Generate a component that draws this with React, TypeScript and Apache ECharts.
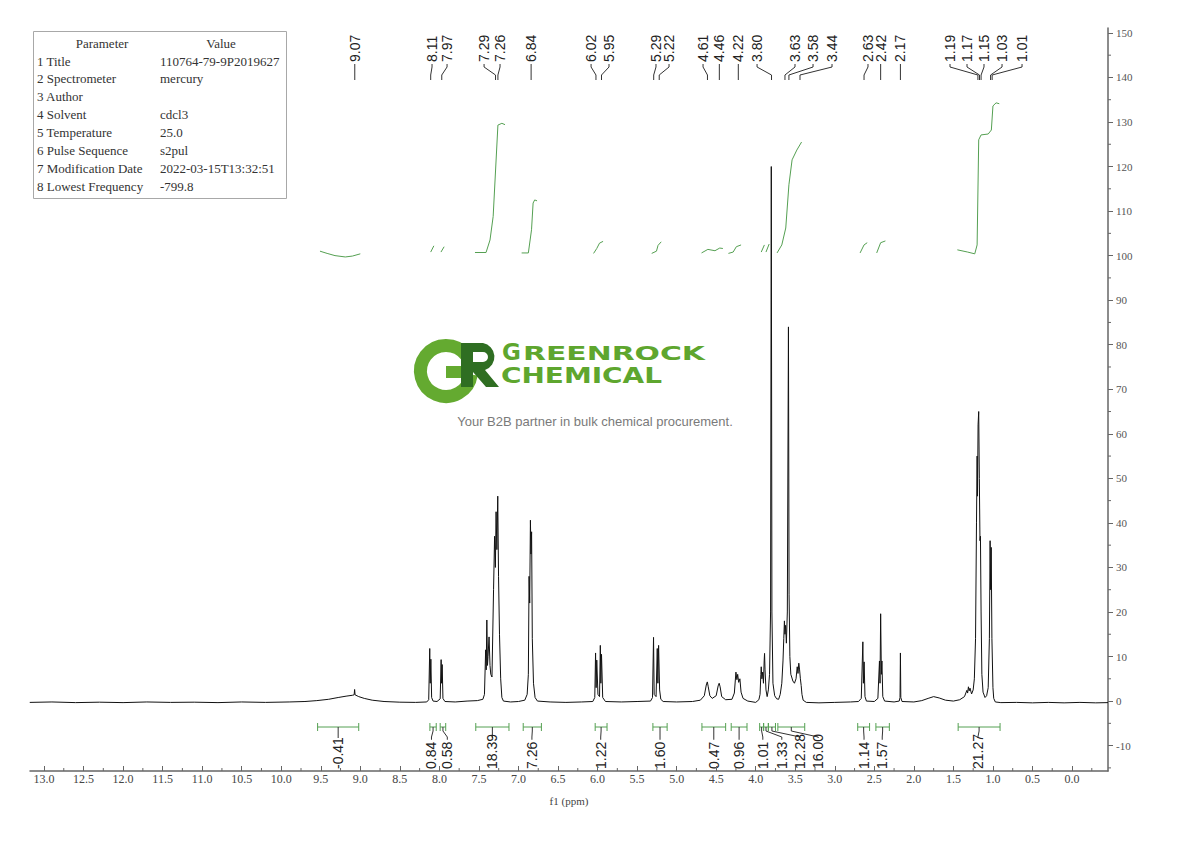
import React, { useEffect, useRef } from "react";
import * as echarts from "echarts";

// ---------- data ----------
const xTickLabels = [0, 0.5, 1, 1.5, 2, 2.5, 3, 3.5, 4, 4.5, 5, 5.5, 6, 6.5, 7, 7.5, 8, 8.5, 9, 9.5, 10, 10.5, 11, 11.5, 12, 12.5, 13];
const xMinorTicks = [-0.25, 0.25, 0.75, 1.25, 1.75, 2.25, 2.75, 3.25, 3.75, 4.25, 4.75, 5.25, 5.75, 6.25, 6.75, 7.25, 7.75, 8.25, 8.75, 9.25, 9.75, 10.25, 10.75, 11.25, 11.75, 12.25, 12.75];
const yTickLabels = [-10, 0, 10, 20, 30, 40, 50, 60, 70, 80, 90, 100, 110, 120, 130, 140, 150];
const yMinorTicks = [-15, -5, 5, 15, 25, 35, 45, 55, 65, 75, 85, 95, 105, 115, 125, 135, 145];

// spectrum points [ppm, intensity]
const spectrum: [number, number][] = [
  [13.18, -0.3], [12.9, -0.2], [12.6, -0.35], [12.3, -0.25], [12.0, -0.35], [11.7, -0.2], [11.4, -0.3], [11.1, -0.25],
  [10.8, -0.35], [10.5, -0.2], [10.2, -0.3], [9.9, -0.2], [9.7, -0.1], [9.55, 0.1], [9.4, 0.4], [9.28, 0.8], [9.18, 1.1],
  [9.1, 1.3], [9.078, 1.4], [9.072, 2.6], [9.066, 1.4], [9.02, 1.0], [8.95, 0.6], [8.85, 0.2], [8.7, -0.1], [8.5, -0.25],
  [8.3, -0.3], [8.16, -0.2],
  [8.135, 0.3], [8.122, 11.8], [8.116, 4], [8.108, 9.4], [8.098, 0.8], [8.08, 0], [8.03, -0.1],
  [7.99, 0.5], [7.978, 9.3], [7.972, 4], [7.965, 8.2], [7.955, 0.6], [7.93, -0.1], [7.8, -0.2], [7.65, 0], [7.52, 0.1],
  [7.45, 0.4], [7.43, 1.5], [7.415, 11.5], [7.408, 7], [7.4, 18.2], [7.392, 8], [7.385, 10], [7.372, 14.4], [7.36, 8],
  [7.35, 6], [7.335, 5.4], [7.315, 25], [7.302, 37], [7.292, 30], [7.283, 42.5], [7.273, 34], [7.262, 46], [7.252, 28],
  [7.24, 15], [7.225, 5], [7.21, 0.8], [7.19, 0], [7.1, -0.2], [7.0, -0.1],
  [6.92, 0.2], [6.89, 1.5], [6.875, 6], [6.866, 28], [6.858, 22], [6.849, 40.6], [6.842, 33], [6.834, 38], [6.825, 14],
  [6.81, 4], [6.79, 0.8], [6.76, 0], [6.6, -0.2], [6.4, -0.3], [6.2, -0.2], [6.06, -0.1],
  [6.035, 0.8], [6.025, 10.8], [6.018, 3], [6.01, 9.2], [5.995, 1.5], [5.975, 1], [5.965, 12.5], [5.958, 4], [5.95, 10.5],
  [5.935, 0.8], [5.9, -0.1], [5.7, -0.2], [5.5, -0.1], [5.33, 0],
  [5.305, 0.8], [5.292, 14.3], [5.284, 1.5], [5.26, 1], [5.245, 11.8], [5.237, 4], [5.228, 12.5], [5.215, 2.5], [5.2, 0.4],
  [5.17, -0.1], [5.0, -0.2], [4.8, -0.1], [4.7, 0.2],
  [4.65, 1.2], [4.625, 3.6], [4.612, 4.3], [4.6, 3.2], [4.58, 1.2], [4.55, 0.6], [4.5, 1.2], [4.475, 3.4], [4.462, 4],
  [4.45, 3.2], [4.43, 1], [4.38, 0.3], [4.3, 0.4], [4.27, 1.8], [4.25, 6.5], [4.238, 4.8], [4.228, 6], [4.215, 4.2],
  [4.2, 5], [4.185, 2], [4.16, 0.6], [4.1, 0], [4.0, -0.3],
  [3.96, 0.3], [3.945, 1.5], [3.935, 6], [3.93, 7.7], [3.922, 5], [3.912, 6.5], [3.902, 4], [3.893, 9], [3.888, 10.7],
  [3.882, 7], [3.87, 2.5], [3.855, 1], [3.84, 2.5], [3.825, 6], [3.812, 20], [3.803, 120], [3.795, 20], [3.782, 4],
  [3.76, 1.2], [3.735, 0.5], [3.71, 0.4], [3.69, 1.5], [3.67, 4], [3.655, 9], [3.645, 14], [3.637, 18], [3.63, 15],
  [3.622, 17], [3.612, 13], [3.6, 20], [3.586, 84], [3.578, 24], [3.568, 10], [3.556, 6], [3.545, 5.4], [3.53, 4.5],
  [3.51, 4], [3.49, 5], [3.475, 7.7], [3.465, 6.2], [3.455, 8.5], [3.445, 7], [3.435, 5], [3.425, 3.5], [3.415, 1.5],
  [3.4, 0.2], [3.36, -0.3], [3.2, -0.4], [3.0, -0.3], [2.8, -0.2], [2.7, -0.1],
  [2.665, 0.6], [2.645, 13.3], [2.638, 4], [2.629, 8.8], [2.618, 1], [2.6, 0], [2.5, -0.1],
  [2.455, 0.6], [2.435, 9], [2.428, 4], [2.42, 19.6], [2.411, 6], [2.404, 9], [2.393, 1], [2.37, 0], [2.25, -0.2],
  [2.185, 0], [2.175, 0.8], [2.17, 10.8], [2.165, 0.8], [2.15, -0.1], [2.0, -0.2],
  [1.9, 0.1], [1.82, 0.6], [1.75, 1.0], [1.68, 0.7], [1.6, 0.2], [1.5, 0], [1.42, 0.3], [1.36, 1], [1.33, 2.4],
  [1.32, 1.8], [1.31, 3.2], [1.3, 2.3], [1.29, 2.9], [1.27, 1.6], [1.25, 2.5], [1.235, 5], [1.22, 14], [1.208, 40],
  [1.2, 55], [1.195, 46], [1.188, 62], [1.18, 65], [1.172, 50], [1.164, 36], [1.158, 37], [1.15, 20], [1.14, 6],
  [1.125, 2], [1.1, 0.8], [1.08, 1.2], [1.06, 3], [1.045, 14], [1.036, 36], [1.029, 25], [1.022, 34.5], [1.013, 14],
  [1.0, 3], [0.99, 0.6], [0.97, -0.2], [0.9, -0.35], [0.7, -0.3], [0.5, -0.4], [0.3, -0.3], [0.1, -0.4], [-0.1, -0.3],
  [-0.3, -0.4], [-0.455, -0.35],
];

// integral traces (green)
const integral1: [number, number][] = [[9.51, 101.0], [9.42, 100.5], [9.32, 100.0], [9.19, 99.7], [9.1, 99.9], [9.0, 100.4]];
const integral2: [number, number][] = [[8.11, 100.8], [8.07, 102.2]];
const integral3: [number, number][] = [[7.98, 100.8], [7.94, 102.0]];
const integral4: [number, number][] = [[7.55, 100.7], [7.41, 100.7], [7.36, 103.5], [7.32, 108.8], [7.26, 129.3], [7.21, 129.7], [7.17, 129.4]];
const integral5: [number, number][] = [[6.96, 100.6], [6.875, 100.6], [6.835, 105.8], [6.815, 111.8], [6.795, 112.5], [6.765, 112.3]];
const integral6: [number, number][] = [[6.05, 100.5], [6.01, 101.6], [5.975, 102.8], [5.93, 103.2]];
const integral7: [number, number][] = [[5.315, 100.5], [5.255, 101.0], [5.235, 102.3], [5.195, 103.1]];
const integral8: [number, number][] = [[4.685, 100.6], [4.605, 101.4], [4.515, 101.1], [4.455, 101.7], [4.415, 101.6]];
const integral9: [number, number][] = [[4.345, 100.5], [4.285, 100.8], [4.245, 102.0], [4.185, 102.4]];
const integral10: [number, number][] = [[3.93, 100.8], [3.89, 102.4]];
const integral11: [number, number][] = [[3.87, 100.8], [3.83, 102.6]];
const integral12: [number, number][] = [[3.73, 100.6], [3.67, 102.4], [3.62, 106.2], [3.58, 115.9], [3.54, 121.5], [3.48, 123.7], [3.42, 125.5]];
const integral13: [number, number][] = [[2.68, 100.6], [2.63, 102.4], [2.59, 102.9]];
const integral14: [number, number][] = [[2.47, 100.6], [2.42, 102.9], [2.36, 103.3]];
const integral15: [number, number][] = [[1.45, 101.3], [1.32, 100.8], [1.23, 100.4], [1.2, 102.4], [1.18, 126], [1.15, 127.1], [1.06, 127.3], [1.02, 128.2], [1.0, 133.6], [0.96, 134.3], [0.92, 134.1]];
const integralCurves = [integral1, integral2, integral3, integral4, integral5, integral6, integral7, integral8, integral9, integral10, integral11, integral12, integral13, integral14, integral15];

// peak picking labels (text) and where their texts sit (ppm)
const peakLabels = ["9.07", "8.11", "7.97", "7.29", "7.26", "6.84", "6.02", "5.95", "5.29", "5.22", "4.61", "4.46", "4.22", "3.80", "3.63", "3.58", "3.44", "2.63", "2.42", "2.17", "1.19", "1.17", "1.15", "1.03", "1.01"];
const peakLabelAt = [9.07, 8.093, 7.903, 7.435, 7.233, 6.84, 6.082, 5.855, 5.261, 5.096, 4.666, 4.46, 4.22, 3.983, 3.503, 3.275, 3.035, 2.58, 2.42, 2.17, 1.543, 1.328, 1.113, 0.885, 0.632];

// integration ranges
const integrationValues = ["-0.41", "0.84", "0.58", "18.39", "7.26", "1.22", "1.60", "0.47", "0.96", "1.01", "1.33", "12.28", "16.00", "1.14", "1.57", "21.27"];
const integrationFrom = [9.54, 8.12, 7.99, 7.54, 6.94, 6.03, 5.30, 4.68, 4.31, 3.95, 3.90, 3.84, 3.72, 2.71, 2.48, 1.44];
const integrationTo = [9.02, 8.04, 7.92, 7.12, 6.71, 5.88, 5.12, 4.38, 4.11, 3.90, 3.84, 3.75, 3.38, 2.56, 2.31, 0.91];
const integrationLabelAt = [9.28, 8.10, 7.90, 7.33, 6.83, 5.96, 5.21, 4.53, 4.21, 3.91, 3.67, 3.44, 3.21, 2.63, 2.40, 1.19];

// parameter table
const paramNames = ["1 Title", "2 Spectrometer", "3 Author", "4 Solvent", "5 Temperature", "6 Pulse Sequence", "7 Modification Date", "8 Lowest Frequency"];
const paramValues = ["110764-79-9P2019627", "mercury", "", "cdcl3", "25.0", "s2pul", "2022-03-15T13:32:51", "-799.8"];

// ---------- styles ----------
const SANS = '"Liberation Sans", Arial, sans-serif';
const SERIF = '"Liberation Serif", "DejaVu Serif", serif';
const LOGO = '"DejaVu Sans", Verdana, sans-serif';
const GREEN = "#55a052";
const AXIS = "#666";

echarts.graphic.registerShape(
  "grLogoR",
  (echarts.graphic as any).extendPath(
    "M0 0 H22 A14 14 0 0 1 24 27 L38 44 H25 L12 29 V44 H0 Z M12 9 V19 H22 A5 5 0 0 0 22 9 Z",
    {}
  )
);

function textWidth(s: string, size: number) {
  let w = 0;
  for (const c of s) {
    if (c === ".") w += 0.278;
    else if (c === "-") w += 0.333;
    else w += 0.556;
  }
  return w * size;
}

function rotText(x: number, y: number, text: string, size: number) {
  return {
    type: "text",
    x,
    y,
    rotation: Math.PI / 2,
    silent: true,
    style: {
      text,
      x: 0,
      y: 0,
      fontSize: size,
      fontFamily: SANS,
      fill: "#222",
      align: "left",
      verticalAlign: "middle",
      textAlign: "left",
      textVerticalAlign: "middle",
    },
  };
}

function plainText(x: number, y: number, text: string, opts: any) {
  return {
    type: "text",
    x,
    y,
    silent: true,
    scaleX: opts.scaleX || 1,
    style: {
      text,
      x: 0,
      y: 0,
      fontSize: opts.size,
      fontFamily: opts.family,
      fontWeight: opts.weight || "normal",
      fill: opts.color,
      align: opts.align || "left",
      verticalAlign: "middle",
      textAlign: opts.align || "left",
      textVerticalAlign: "middle",
    },
  };
}

function buildGraphic(chart: any) {
  const px = (v: number) => chart.convertToPixel({ xAxisIndex: 0 }, v) as number;
  const py = (v: number) => chart.convertToPixel({ yAxisIndex: 0 }, v) as number;
  const els: any[] = [];

  // minor ticks (through the axes' scales)
  const xAxisY = py(-15.7);
  const yAxisX = px(-0.455);
  xMinorTicks.forEach((v) => {
    const x = px(v);
    els.push({ type: "line", silent: true, shape: { x1: x, y1: xAxisY, x2: x, y2: xAxisY - 3 }, style: { stroke: AXIS, lineWidth: 1 } });
  });
  yMinorTicks.forEach((v) => {
    const y = py(v);
    els.push({ type: "line", silent: true, shape: { x1: yAxisX, y1: y, x2: yAxisX + 3, y2: y }, style: { stroke: AXIS, lineWidth: 1 } });
  });

  // peak labels at the top
  peakLabels.forEach((lab, i) => {
    const lx = px(peakLabelAt[i]);
    const pk = px(parseFloat(lab));
    els.push(rotText(lx, 62, lab, 14));
    els.push({
      type: "polyline",
      silent: true,
      shape: { points: [[lx, 64], [lx, 67], [pk, 75], [pk, 80]] },
      style: { stroke: "#333", lineWidth: 1, fill: "none" },
    });
  });

  // integration brackets
  integrationValues.forEach((val, i) => {
    const a = px(integrationFrom[i]);
    const b = px(integrationTo[i]);
    const c = (a + b) / 2;
    const lx = px(integrationLabelAt[i]);
    const top = 769 - textWidth(val, 14) - 2;
    els.push({ type: "line", silent: true, shape: { x1: a, y1: 727, x2: b, y2: 727 }, style: { stroke: GREEN, lineWidth: 1 } });
    els.push({ type: "line", silent: true, shape: { x1: a, y1: 723, x2: a, y2: 731 }, style: { stroke: GREEN, lineWidth: 1 } });
    els.push({ type: "line", silent: true, shape: { x1: b, y1: 723, x2: b, y2: 731 }, style: { stroke: GREEN, lineWidth: 1 } });
    els.push({
      type: "polyline",
      silent: true,
      shape: { points: [[c, 727], [c, 731], [lx, 737], [lx, Math.max(top, 738)]] },
      style: { stroke: "#333", lineWidth: 1, fill: "none" },
    });
    els.push(rotText(lx, 769, val, 14));
  });

  // parameter table
  els.push({ type: "rect", silent: true, shape: { x: 33.5, y: 31.5, width: 253, height: 167 }, style: { fill: "#fff", stroke: "#a8a8a8", lineWidth: 1 } });
  els.push(plainText(102, 43, "Parameter", { size: 13, family: SERIF, color: "#333", align: "center" }));
  els.push(plainText(221, 43, "Value", { size: 13, family: SERIF, color: "#333", align: "center" }));
  paramNames.forEach((n, i) => {
    const y = 61 + i * 17.9;
    els.push(plainText(37, y, n, { size: 13, family: SERIF, color: "#333" }));
    if (paramValues[i]) els.push(plainText(160, y, paramValues[i], { size: 13, family: SERIF, color: "#333" }));
  });

  // logo
  els.push({
    type: "arc",
    silent: true,
    shape: { cx: 446, cy: 371, r: 25.5, startAngle: (-38 * Math.PI) / 180, endAngle: (8 * Math.PI) / 180, clockwise: false },
    style: { stroke: "#64aa30", lineWidth: 13, fill: "none" },
  });
  els.push({ type: "rect", silent: true, shape: { x: 446, y: 366, width: 22, height: 12 }, style: { fill: "#64aa30" } });
  els.push({ type: "grLogoR", silent: true, x: 461, y: 343, scaleX: 1, scaleY: 1, style: { fill: "#2f6e22" } });
  els.push(plainText(502, 352, "G", { size: 23, family: LOGO, weight: "bold", color: "#5ea62e" }));
  els.push(plainText(523, 353.5, "REENROCK", { size: 19, family: LOGO, weight: "bold", color: "#5ea62e", scaleX: 1.57 }));
  els.push(plainText(501, 376, "CHEMICAL", { size: 22, family: LOGO, weight: "bold", color: "#5ea62e", scaleX: 1.27 }));
  els.push(plainText(595, 421, "Your B2B partner in bulk chemical procurement.", { size: 13, family: SANS, color: "#7a7a7a", align: "center" }));

  return els;
}

const option: any = {
  animation: false,
  backgroundColor: "#ffffff",
  grid: { left: 30, right: 82, top: 28, bottom: 70, containLabel: false },
  xAxis: {
    type: "value",
    min: -0.455,
    max: 13.177,
    inverse: true,
    position: "bottom",
    name: "f1 (ppm)",
    nameLocation: "middle",
    nameGap: 24,
    nameTextStyle: { fontFamily: SERIF, fontSize: 11, color: "#444" },
    axisLine: { show: true, onZero: false, lineStyle: { color: AXIS, width: 1.5 } },
    axisTick: { show: true, inside: true, length: 5, customValues: xTickLabels, lineStyle: { color: AXIS } },
    axisLabel: {
      customValues: xTickLabels,
      formatter: (v: number) => v.toFixed(1),
      fontFamily: SERIF,
      fontSize: 12,
      color: "#444",
      margin: 2,
    },
    splitLine: { show: false },
  },
  yAxis: {
    type: "value",
    min: -15.7,
    max: 151.1,
    position: "right",
    axisLine: { show: true, onZero: false, lineStyle: { color: AXIS, width: 1.5 } },
    axisTick: { show: true, length: 5, customValues: yTickLabels, lineStyle: { color: AXIS } },
    axisLabel: { customValues: yTickLabels, fontFamily: SERIF, fontSize: 11, color: "#555", margin: 8 },
    splitLine: { show: false },
  },
  series: [
    {
      type: "line",
      data: spectrum,
      symbol: "none",
      silent: true,
      lineStyle: { color: "#111", width: 1 },
      z: 3,
    },
    ...integralCurves.map((c) => ({
      type: "line",
      data: c,
      symbol: "none",
      silent: true,
      lineStyle: { color: GREEN, width: 1 },
      z: 2,
    })),
  ],
};

export default function App() {
  const ref = useRef<HTMLDivElement>(null);
  useEffect(() => {
    if (!ref.current) return;
    const chart = echarts.init(ref.current, null, { renderer: "svg" });
    chart.setOption(option);
    chart.setOption({ graphic: { elements: buildGraphic(chart) } });
    return () => chart.dispose();
  }, []);
  return (
    <div
      ref={ref}
      style={{ position: "fixed", left: 0, top: 0, width: 1190, height: 841, background: "#fff" }}
    />
  );
}
